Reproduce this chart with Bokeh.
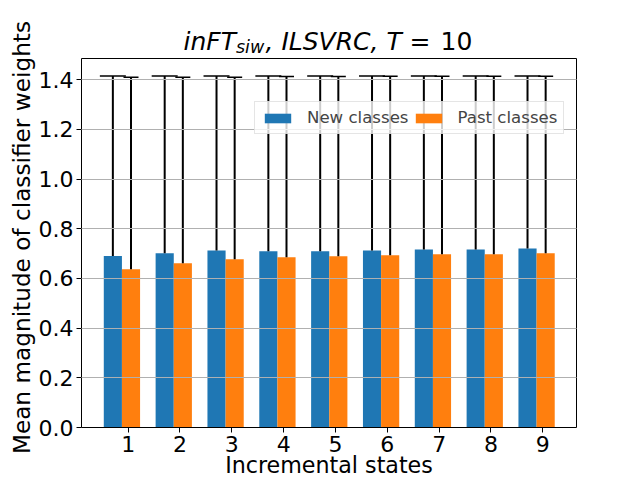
from bokeh.plotting import figure
from bokeh.models import (Range1d, FixedTicker, Label, Legend, LegendItem, NumeralTickFormatter,
                          LinearAxis)
from bokeh.embed import file_html
from bokeh.resources import INLINE

# ---- data ----
states = [1, 2, 3, 4, 5, 6, 7, 8, 9]
new_mean = [0.690, 0.701, 0.713, 0.709, 0.709, 0.713, 0.717, 0.717, 0.721]
past_mean = [0.637, 0.661, 0.677, 0.685, 0.689, 0.693, 0.697, 0.697, 0.701]
new_err = [0.725, 0.714, 0.702, 0.706, 0.706, 0.702, 0.698, 0.698, 0.694]
past_err = [0.773, 0.749, 0.733, 0.728, 0.724, 0.721, 0.717, 0.717, 0.713]
y_ticks = [0.0, 0.2, 0.4, 0.6, 0.8, 1.0, 1.2, 1.4]
series_names = ["New classes", "Past classes"]
x_title = "Incremental states"
y_title = "Mean magnitude of classifier weights"

BLUE = "#1f77b4"
ORANGE = "#ff7f0e"
FONT = "DejaVu Sans"
BAR_W = 0.35
OFF_NEW = -0.295
OFF_PAST = 0.055

X_LO, X_HI = 0.1, 9.65
Y_MAX = 1.487            # top of the axes box
W, H = 640, 480
FL, FR, FB, FT = 81, 576, 427, 57.6   # axes box in page pixels
TOP = 25                               # frame top (frame reaches above the axes box for the title)
Y_FRAME_TOP = Y_MAX * (FB - TOP) / (FB - FT)

p = figure(width=W, height=H, output_backend="svg", toolbar_location=None,
           x_range=Range1d(X_LO, X_HI), y_range=Range1d(0, Y_FRAME_TOP),
           min_border_left=FL, min_border_right=W - FR, min_border_top=TOP,
           min_border_bottom=H - FB)
p.background_fill_color = "white"
p.border_fill_color = "white"
p.outline_line_color = None

x_new = [s + OFF_NEW for s in states]
x_past = [s + OFF_PAST for s in states]
top_new = [m + e for m, e in zip(new_mean, new_err)]
top_past = [m + e for m, e in zip(past_mean, past_err)]

r_new = p.vbar(x=x_new, top=new_mean, bottom=0, width=BAR_W, fill_color=BLUE, line_color=None)
r_past = p.vbar(x=x_past, top=past_mean, bottom=0, width=BAR_W, fill_color=ORANGE, line_color=None)

p.segment(x0=x_new, y0=new_mean, x1=x_new, y1=top_new, line_color="black", line_width=2)
p.segment(x0=x_past, y0=past_mean, x1=x_past, y1=top_past, line_color="black", line_width=2)
p.scatter(x=x_new, y=top_new, marker="dash", size=26, line_color="black", line_width=1.5)
p.scatter(x=x_past, y=top_past, marker="dash", size=15, line_color="black", line_width=1.5)

# grid
p.xgrid.visible = False
p.ygrid.grid_line_color = "#b0b0b0"
p.ygrid.grid_line_width = 1
p.ygrid.level = "guide"

# axes
p.xaxis.ticker = FixedTicker(ticks=states)
p.yaxis.ticker = FixedTicker(ticks=y_ticks)
p.yaxis.formatter = NumeralTickFormatter(format="0.0")
p.yaxis.bounds = (0, Y_MAX)
p.xaxis.axis_label = x_title
# the frame is a little taller than the axes box; pad so the text sits centred on the box
p.yaxis.axis_label = y_title + "\u00a0" * 3
for ax in (p.xaxis, p.yaxis):
    ax.axis_line_color = "black"
    ax.major_tick_line_color = "black"
    ax.major_tick_out = 5
    ax.major_tick_in = 0
    ax.minor_tick_out = 0
    ax.minor_tick_in = 0
    ax.major_label_text_font = FONT
    ax.major_label_text_font_size = "22px"
    ax.major_label_text_color = "black"
    ax.axis_label_text_font = FONT
    ax.axis_label_text_font_style = "normal"
    ax.axis_label_text_color = "black"
    ax.major_label_standoff = 3
p.xaxis.axis_label_text_font_size = "22.2px"
p.yaxis.axis_label_text_font_size = "23.2px"
p.yaxis.axis_label_standoff = 1
p.xaxis.axis_label_standoff = -3

# right spine (axis without ticks)
right = LinearAxis(bounds=(0, Y_MAX), ticker=FixedTicker(ticks=[]), axis_line_color="black",
                   major_tick_out=0, major_tick_in=0, minor_tick_out=0, minor_tick_in=0)
p.add_layout(right, "right")

# top spine of the axes box
p.hspan(y=[Y_MAX], line_color="black", line_width=1, level="overlay")
# a second way to draw the same edge: a thin black box behind an invisible 1px label
try:
    spine = Label(x=0, y=FB - FT, x_units="screen", y_units="screen", text=" ",
                  text_font=FONT, text_font_size="1px", text_alpha=0,
                  text_align="left", text_baseline="middle",
                  padding=(0, FR - FL, 0, 0),
                  background_fill_color="black", background_fill_alpha=1,
                  border_line_color=None)
    p.add_layout(spine)
except Exception:
    pass

# legend
legend = Legend(items=[LegendItem(label=series_names[0], renderers=[r_new]),
                       LegendItem(label=series_names[1], renderers=[r_past])],
                orientation="horizontal", location=(255 - FL - 1, FB - 134),
                glyph_width=33, glyph_height=12, label_standoff=13, spacing=3,
                padding=6, margin=0, label_height=17,
                label_text_font=FONT, label_text_font_size="16.6px",
                border_line_color="#cccccc", border_line_width=1,
                background_fill_color="white", background_fill_alpha=0.8)
p.add_layout(legend, "center")

# title built from pieces (math-like italic with subscript)
BASE = 40.5
def piece(txt, wx, wy, size, style):
    p.add_layout(Label(x=wx - FL, y=FB - wy, x_units="screen", y_units="screen", text=txt,
                       text_font=FONT, text_font_size=size, text_font_style=style,
                       text_baseline="alphabetic", text_align="left", text_color="black",
                       background_fill_color=None, border_line_color=None))

piece("inFT", 183, BASE, "25px", "italic")
piece("siw", 235.5, BASE + 6, "17.5px", "italic")
piece(", ILSVRC, T", 265, BASE, "25px", "italic")
piece("=", 409, BASE, "25px", "normal")
piece("10", 440, BASE, "25px", "normal")

open("out.html", "w").write(file_html(p, INLINE))
